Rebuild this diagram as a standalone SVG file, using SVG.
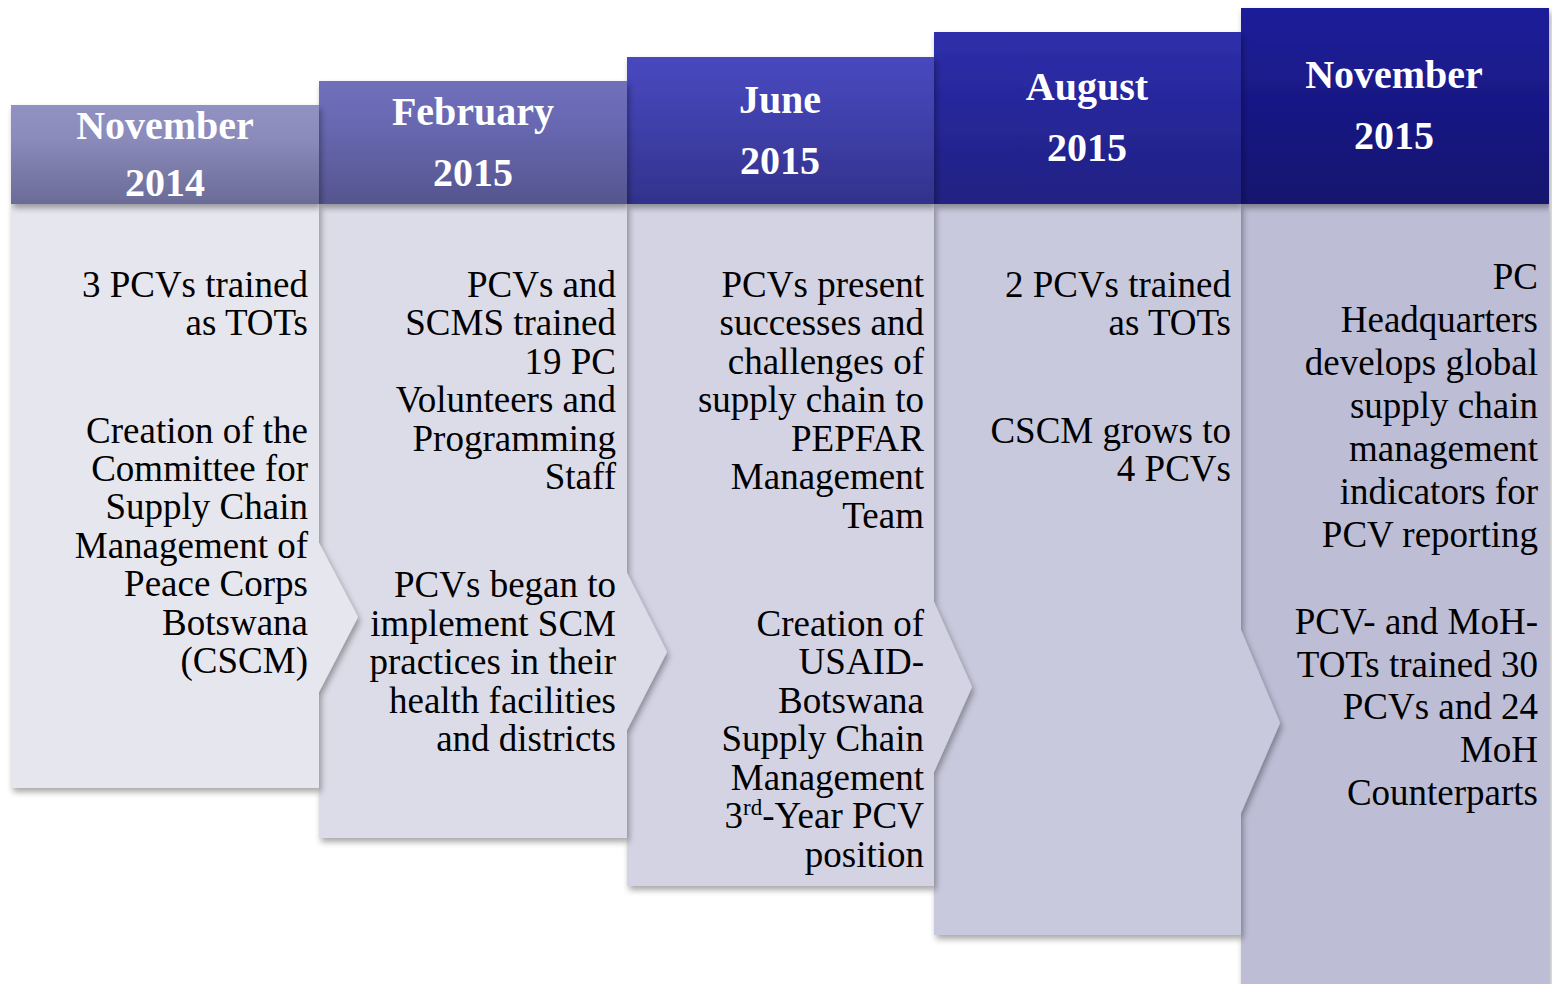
<svg xmlns="http://www.w3.org/2000/svg" width="1552" height="984" viewBox="0 0 1552 984">
<defs>
<filter id="sh" x="-10%" y="-10%" width="125%" height="125%">
<feDropShadow dx="2" dy="4" stdDeviation="3" flood-color="#000" flood-opacity="0.35"/>
</filter>
<linearGradient id="h1" x1="0" y1="0" x2="0" y2="1"><stop offset="0" stop-color="#9292c2"/><stop offset="0.35" stop-color="#8a8abb"/><stop offset="1" stop-color="#6b6b97"/></linearGradient>
<linearGradient id="h2" x1="0" y1="0" x2="0" y2="1"><stop offset="0" stop-color="#7070bb"/><stop offset="0.35" stop-color="#6868b2"/><stop offset="1" stop-color="#55558f"/></linearGradient>
<linearGradient id="h3" x1="0" y1="0" x2="0" y2="1"><stop offset="0" stop-color="#4848bf"/><stop offset="0.35" stop-color="#4242b0"/><stop offset="1" stop-color="#32328c"/></linearGradient>
<linearGradient id="h4" x1="0" y1="0" x2="0" y2="1"><stop offset="0" stop-color="#2f2fab"/><stop offset="0.35" stop-color="#28289e"/><stop offset="1" stop-color="#202082"/></linearGradient>
<linearGradient id="h5" x1="0" y1="0" x2="0" y2="1"><stop offset="0" stop-color="#1d1d9a"/><stop offset="0.35" stop-color="#1a1a8c"/><stop offset="1" stop-color="#14146e"/></linearGradient>
</defs>
<style>
.hd{font-family:"Liberation Serif","Times New Roman",serif;font-weight:bold;font-size:40px;fill:#ffffff;text-anchor:middle}
.bt{font-family:"Liberation Serif","Times New Roman",serif;font-size:37px;fill:#000000;text-anchor:end}
.sup{font-size:23px}
</style>
<rect width="1552" height="984" fill="#ffffff"/>

<g id="col5">
<rect x="1241" y="204" width="308" height="800" fill="#bdbdd6" filter="url(#sh)"/>
<rect x="1241" y="8" width="308" height="196" fill="url(#h5)" filter="url(#sh)"/>
<text class="hd" x="1394" y="88">November</text>
<text class="hd" x="1394" y="149">2015</text>
<text class="bt"><tspan x="1538" y="289">PC</tspan><tspan x="1538" y="332">Headquarters</tspan><tspan x="1538" y="375">develops global</tspan><tspan x="1538" y="418">supply chain</tspan><tspan x="1538" y="461">management</tspan><tspan x="1538" y="504">indicators for</tspan><tspan x="1538" y="547">PCV reporting</tspan></text>
<text class="bt"><tspan x="1538" y="634">PCV- and MoH-</tspan><tspan x="1538" y="677">TOTs trained 30</tspan><tspan x="1538" y="719">PCVs and 24</tspan><tspan x="1538" y="762">MoH</tspan><tspan x="1538" y="805">Counterparts</tspan></text>
</g>

<g id="col4">
<path d="M934,204 H1241 V630 L1280,723 L1241,813 V935 H934 Z" fill="#c9c9dd" filter="url(#sh)"/>
<rect x="934" y="32" width="307" height="172" fill="url(#h4)" filter="url(#sh)"/>
<text class="hd" x="1087" y="100">August</text>
<text class="hd" x="1087" y="161">2015</text>
<text class="bt"><tspan x="1231" y="297">2 PCVs trained</tspan><tspan x="1231" y="335">as TOTs</tspan></text>
<text class="bt"><tspan x="1231" y="443">CSCM grows to</tspan><tspan x="1231" y="481">4 PCVs</tspan></text>
</g>

<g id="col3">
<path d="M627,204 H934 V602 L972,687 L934,772 V886 H627 Z" fill="#d3d3e4" filter="url(#sh)"/>
<rect x="627" y="57" width="307" height="147" fill="url(#h3)" filter="url(#sh)"/>
<text class="hd" x="780" y="113">June</text>
<text class="hd" x="780" y="174">2015</text>
<text class="bt"><tspan x="924" y="297">PCVs present</tspan><tspan x="924" y="335">successes and</tspan><tspan x="924" y="374">challenges of</tspan><tspan x="924" y="412">supply chain to</tspan><tspan x="924" y="451">PEPFAR</tspan><tspan x="924" y="489">Management</tspan><tspan x="924" y="528">Team</tspan></text>
<text class="bt"><tspan x="924" y="636">Creation of</tspan><tspan x="924" y="674">USAID-</tspan><tspan x="924" y="713">Botswana</tspan><tspan x="924" y="751">Supply Chain</tspan><tspan x="924" y="790">Management</tspan><tspan x="924" y="828">3<tspan class="sup" dy="-13">rd</tspan><tspan dy="13">-Year PCV</tspan></tspan><tspan x="924" y="867">position</tspan></text>
</g>

<g id="col2">
<path d="M319,204 H627 V573 L667,652 L627,730 V838 H319 Z" fill="#dcdce8" filter="url(#sh)"/>
<rect x="319" y="81" width="308" height="123" fill="url(#h2)" filter="url(#sh)"/>
<text class="hd" x="473" y="125">February</text>
<text class="hd" x="473" y="186">2015</text>
<text class="bt"><tspan x="616" y="297">PCVs and</tspan><tspan x="616" y="335">SCMS trained</tspan><tspan x="616" y="374">19 PC</tspan><tspan x="616" y="412">Volunteers and</tspan><tspan x="616" y="451">Programming</tspan><tspan x="616" y="489">Staff</tspan></text>
<text class="bt"><tspan x="616" y="597">PCVs began to</tspan><tspan x="616" y="636">implement SCM</tspan><tspan x="616" y="674">practices in their</tspan><tspan x="616" y="713">health facilities</tspan><tspan x="616" y="751">and districts</tspan></text>
</g>

<g id="col1">
<path d="M11,204 H319 V543 L358,617 L319,692 V788 H11 Z" fill="#e6e6ee" filter="url(#sh)"/>
<rect x="11" y="105" width="308" height="99" fill="url(#h1)" filter="url(#sh)"/>
<text class="hd" x="165" y="139">November</text>
<text class="hd" x="165" y="196">2014</text>
<text class="bt"><tspan x="308" y="297">3 PCVs trained</tspan><tspan x="308" y="335">as TOTs</tspan></text>
<text class="bt"><tspan x="308" y="443">Creation of the</tspan><tspan x="308" y="481">Committee for</tspan><tspan x="308" y="519">Supply Chain</tspan><tspan x="308" y="558">Management of</tspan><tspan x="308" y="596">Peace Corps</tspan><tspan x="308" y="635">Botswana</tspan><tspan x="308" y="673">(CSCM)</tspan></text>
</g>

<g id="connectors"/>
</svg>
